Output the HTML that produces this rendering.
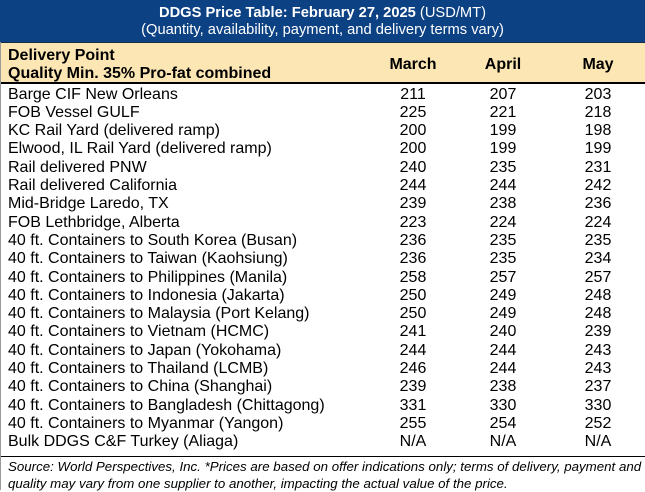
<!DOCTYPE html>
<html>
<head>
<meta charset="utf-8">
<style>
  html,body{margin:0;padding:0;}
  body{width:645px;height:490px;position:relative;overflow:hidden;background:#fff;font-family:"Liberation Sans",Arial,sans-serif;color:#000;}
  .band{position:absolute;left:0;top:0;width:645px;height:42px;background:#0c4183;}
  .t{position:absolute;left:0;width:645px;text-align:center;color:#fff;font-size:14.7px;line-height:17px;white-space:nowrap;}
  .yl{position:absolute;left:0;top:42px;width:645px;height:41px;background:#fce7b4;border-top:1px solid #1a2a44;box-sizing:border-box;}
  .hline{position:absolute;left:0;width:645px;height:2px;background:#000;}
  .h{position:absolute;font-weight:bold;font-size:16px;line-height:18px;white-space:nowrap;}
  .m{position:absolute;width:80px;text-align:center;}
  .r{position:absolute;left:0;width:645px;height:18.3px;font-size:16px;line-height:18.3px;white-space:nowrap;}
  .r span{position:absolute;top:0;}
  .r .n{left:8px;}
  .r .a{left:373px;width:80px;text-align:center;}
  .r .b{left:463px;width:80px;text-align:center;}
  .r .c{left:558px;width:80px;text-align:center;}
  .foot{position:absolute;left:8px;top:458px;width:640px;font-style:italic;font-size:13.3px;line-height:17px;white-space:nowrap;}
  .lb{position:absolute;left:0;top:42px;width:1px;height:448px;background:#9a9a9a;}
</style>
</head>
<body>
<div class="band"></div>
<div class="t" style="top:5px;"><b>DDGS Price Table: February 27, 2025</b> (USD/MT)</div>
<div class="t" style="top:22px;">(Quantity, availability, payment, and delivery terms vary)</div>
<div class="yl"></div>
<div class="hline" style="top:82px;"></div>
<div class="h" style="left:8px;top:47px;">Delivery Point</div>
<div class="h" style="left:8px;top:65px;">Quality Min. 35% Pro-fat combined</div>
<div class="h m" style="left:373px;top:56px;">March</div>
<div class="h m" style="left:463px;top:56px;">April</div>
<div class="h m" style="left:558px;top:56px;">May</div>

<div class="r" style="top:85.5px;"><span class="n">Barge CIF New Orleans</span><span class="a">211</span><span class="b">207</span><span class="c">203</span></div>
<div class="r" style="top:103.8px;"><span class="n">FOB Vessel GULF</span><span class="a">225</span><span class="b">221</span><span class="c">218</span></div>
<div class="r" style="top:122.1px;"><span class="n">KC Rail Yard (delivered ramp)</span><span class="a">200</span><span class="b">199</span><span class="c">198</span></div>
<div class="r" style="top:140.4px;"><span class="n">Elwood, IL Rail Yard (delivered ramp)</span><span class="a">200</span><span class="b">199</span><span class="c">199</span></div>
<div class="r" style="top:158.7px;"><span class="n">Rail delivered PNW</span><span class="a">240</span><span class="b">235</span><span class="c">231</span></div>
<div class="r" style="top:177.0px;"><span class="n">Rail delivered California</span><span class="a">244</span><span class="b">244</span><span class="c">242</span></div>
<div class="r" style="top:195.3px;"><span class="n">Mid-Bridge Laredo, TX</span><span class="a">239</span><span class="b">238</span><span class="c">236</span></div>
<div class="r" style="top:213.6px;"><span class="n">FOB Lethbridge, Alberta</span><span class="a">223</span><span class="b">224</span><span class="c">224</span></div>
<div class="r" style="top:231.9px;"><span class="n">40 ft. Containers to South Korea (Busan)</span><span class="a">236</span><span class="b">235</span><span class="c">235</span></div>
<div class="r" style="top:250.2px;"><span class="n">40 ft. Containers to Taiwan (Kaohsiung)</span><span class="a">236</span><span class="b">235</span><span class="c">234</span></div>
<div class="r" style="top:268.5px;"><span class="n">40 ft. Containers to Philippines (Manila)</span><span class="a">258</span><span class="b">257</span><span class="c">257</span></div>
<div class="r" style="top:286.8px;"><span class="n">40 ft. Containers to Indonesia (Jakarta)</span><span class="a">250</span><span class="b">249</span><span class="c">248</span></div>
<div class="r" style="top:305.1px;"><span class="n">40 ft. Containers to Malaysia (Port Kelang)</span><span class="a">250</span><span class="b">249</span><span class="c">248</span></div>
<div class="r" style="top:323.4px;"><span class="n">40 ft. Containers to Vietnam (HCMC)</span><span class="a">241</span><span class="b">240</span><span class="c">239</span></div>
<div class="r" style="top:341.7px;"><span class="n">40 ft. Containers to Japan (Yokohama)</span><span class="a">244</span><span class="b">244</span><span class="c">243</span></div>
<div class="r" style="top:360.0px;"><span class="n">40 ft. Containers to Thailand (LCMB)</span><span class="a">246</span><span class="b">244</span><span class="c">243</span></div>
<div class="r" style="top:378.3px;"><span class="n">40 ft. Containers to China (Shanghai)</span><span class="a">239</span><span class="b">238</span><span class="c">237</span></div>
<div class="r" style="top:396.6px;"><span class="n">40 ft. Containers to Bangladesh (Chittagong)</span><span class="a">331</span><span class="b">330</span><span class="c">330</span></div>
<div class="r" style="top:414.9px;"><span class="n">40 ft. Containers to Myanmar (Yangon)</span><span class="a">255</span><span class="b">254</span><span class="c">252</span></div>
<div class="r" style="top:433.2px;"><span class="n">Bulk DDGS C&amp;F Turkey (Aliaga)</span><span class="a">N/A</span><span class="b">N/A</span><span class="c">N/A</span></div>

<div class="hline" style="top:456px;height:1px;"></div>
<div class="foot">Source: World Perspectives, Inc. *Prices are based on offer indications only; terms of delivery, payment and<br>quality may vary from one supplier to another, impacting the actual value of the price.</div>
<div class="lb"></div>
</body>
</html>
